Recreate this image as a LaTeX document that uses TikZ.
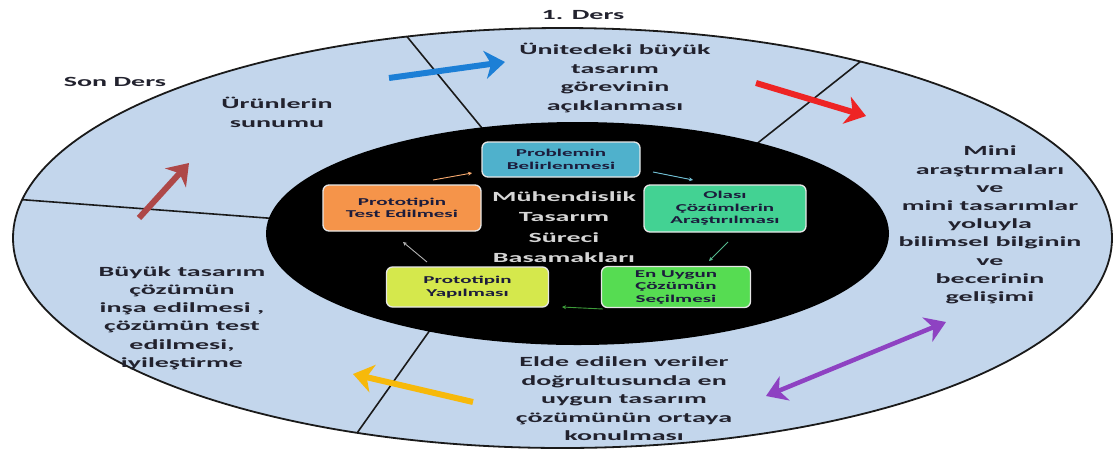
\documentclass[tikz,border=0pt]{standalone}
\usepackage{fontspec}
\usetikzlibrary{arrows.meta}
\newfontfamily\dfont[FakeStretch=2]{Carlito}
\definecolor{ringfill}{HTML}{C3D6EC}
\definecolor{divcol}{HTML}{1A1A1A}
\definecolor{txtcol}{HTML}{22222E}
\definecolor{boxtxt}{HTML}{1C1C3C}
\definecolor{boxline}{HTML}{E6E6E6}
\definecolor{cprob}{HTML}{4FB1CC}
\definecolor{ctest}{HTML}{F5944A}
\definecolor{colasi}{HTML}{43D293}
\definecolor{cuygun}{HTML}{56DC52}
\definecolor{cyapim}{HTML}{D5E84C}
\definecolor{centertxt}{HTML}{D6D6D6}
\definecolor{ablue}{HTML}{1C7FD6}
\definecolor{ared}{HTML}{EE2424}
\definecolor{apurple}{HTML}{8E42C2}
\definecolor{ayellow}{HTML}{F7B90A}
\definecolor{adarkred}{HTML}{AE4848}
\tikzset{
  divider/.style={draw=divcol, line width=1.6pt},
  otext/.style={font=\dfont\bfseries\fontsize{14}{18.8}\selectfont, align=center, text=txtcol, inner sep=0pt},
  stepbox/.style={draw=boxline, line width=1.3pt, rounded corners=6pt, align=center, inner sep=0pt,
    text=boxtxt, font=\dfont\bfseries\fontsize{10.5}{12.5}\selectfont},
  ctext/.style={font=\dfont\bfseries\fontsize{14}{20.5}\selectfont, align=center, text=centertxt, inner sep=0pt},
  smallarrow/.style={line width=0.9pt, -{Stealth[length=4pt,width=4pt]}},
  bigarrow/.style={line width=6pt, -{Stealth[length=20pt,width=28pt,inset=6pt]}},
}
\begin{document}
\begin{tikzpicture}[x=1pt,y=-1pt]
\path[fill=white, use as bounding box] (0,0) rectangle (1114,451);
% outer ring
\fill[ringfill] (562.5,238) ellipse [x radius=549.5pt, y radius=210pt];
\begin{scope}
  \clip (562.5,238) ellipse [x radius=549.5pt, y radius=210pt];
  \draw[divider] (395,22) -- (500,150);
  \draw[divider] (875,50) -- (735,161);
  \draw[divider] (0,198) -- (320,222);
  \draw[divider] (440,316) -- (340,457);
\end{scope}
\draw[divcol, line width=1.8pt] (562.5,238) ellipse [x radius=549.5pt, y radius=210pt];
% inner black ellipse
\fill[black] (577.5,233.5) ellipse [x radius=311.5pt, y radius=111.5pt];

% process boxes
\node[stepbox, fill=cprob, minimum width=158pt, minimum height=35pt] (prob) at (561,159.5) {Problemin\\Belirlenmesi};
\node[stepbox, fill=colasi, minimum width=162pt, minimum height=47pt] (olasi) at (725,208.5) {Olası\\Çözümlerin\\Araştırılması};
\node[stepbox, fill=cuygun, minimum width=149pt, minimum height=41pt] (uygun) at (676,287) {En Uygun\\Çözümün\\Seçilmesi};
\node[stepbox, fill=cyapim, minimum width=162pt, minimum height=40pt] (yapim) at (467.5,287) {Prototipin\\Yapılması};
\node[stepbox, fill=ctest, minimum width=158pt, minimum height=46pt] (test) at (402,208) {Prototipin\\Test Edilmesi};
\node[ctext] (center) at (564,227) {Mühendislik\\Tasarım\\Süreci\\Basamakları};

% small cycle arrows
\coordinate (a1s) at (433,180); \coordinate (a1e) at (472,173);
\coordinate (a2s) at (653,172); \coordinate (a2e) at (693,180);
\coordinate (a3s) at (728,242); \coordinate (a3e) at (709,261);
\coordinate (a4s) at (603,309); \coordinate (a4e) at (562,307);
\coordinate (a5s) at (427,262); \coordinate (a5e) at (403,242);
\draw[smallarrow, draw=ctest!80!white] (a1s) -- (a1e);
\draw[smallarrow, draw=cprob!80!white] (a2s) -- (a2e);
\draw[smallarrow, draw=colasi!70!gray] (a3s) -- (a3e);
\draw[smallarrow, draw=cuygun!70!black] (a4s) -- (a4e);
\draw[smallarrow, draw=gray!60!white] (a5s) -- (a5e);

% outer texts
\node[otext] (ders1) at (583,15) {1. Ders};
\node[otext] (sonders) at (115,82) {Son Ders};
\node[otext] (urun) at (277,112) {Ürünlerin\\sunumu};
\node[otext] (unite) at (615,78) {Ünitedeki büyük\\tasarım\\görevinin\\açıklanması};
\node[otext, font=\dfont\bfseries\fontsize{14}{18.2}\selectfont] (mini) at (990,225) {Mini\\araştırmaları\\ve\\mini tasarımlar\\yoluyla\\bilimsel bilginin\\ve\\becerinin\\gelişimi};
\node[otext, font=\dfont\bfseries\fontsize{14}{18.5}\selectfont] (elde) at (624,399) {Elde edilen veriler\\doğrultusunda en\\uygun tasarım\\çözümünün ortaya\\konulması};
\node[otext, font=\dfont\bfseries\fontsize{14}{18.2}\selectfont] (buyuk) at (182,318) {Büyük tasarım\\çözümün\\inşa edilmesi ,\\çözümün test\\edilmesi,\\iyileştirme};

% big arrows
\coordinate (bs) at (389,78); \coordinate (be) at (505,62);
\coordinate (rs) at (756,83); \coordinate (re) at (866,116);
\coordinate (ps) at (766,396); \coordinate (pe) at (946,322);
\coordinate (ys) at (473,402); \coordinate (ye) at (353,374);
\coordinate (ds) at (139,218); \coordinate (de) at (189,163);
\draw[bigarrow, draw=ablue, fill=ablue] (bs) -- (be);
\draw[bigarrow, draw=ared, fill=ared] (rs) -- (re);
\draw[line width=4.5pt, draw=apurple, fill=apurple, {Stealth[length=20pt,width=26pt,inset=6pt]}-{Stealth[length=20pt,width=26pt,inset=6pt]}] (ps) -- (pe);
\draw[bigarrow, draw=ayellow, fill=ayellow] (ys) -- (ye);
\draw[bigarrow, draw=adarkred, fill=adarkred] (ds) -- (de);
\end{tikzpicture}
\end{document}
